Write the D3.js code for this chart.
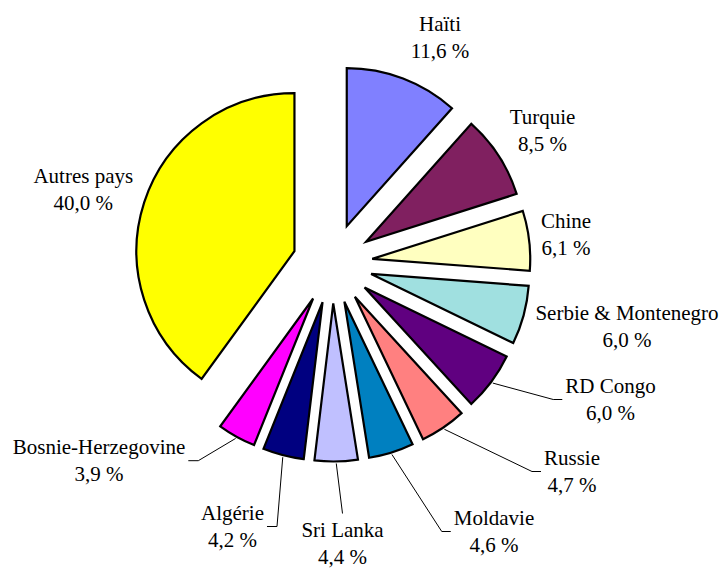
<!DOCTYPE html>
<html lang="fr">
<head>
<meta charset="utf-8">
<title>Répartition par pays</title>
<script src="https://cdn.jsdelivr.net/npm/d3@7"></script>
<style>
  html, body { margin: 0; padding: 0; background: #fff; }
  svg { display: block; }
  .lbl { font-family: "Liberation Serif", "Times New Roman", serif; font-size: 21px; fill: #000; }
</style>
</head>
<body>
<svg id="chart" width="722" height="570"></svg>
<script>
// Pays et parts (%)
const countries = ["Haïti", "Turquie", "Chine", "Serbie & Montenegro", "RD Congo",
  "Russie", "Moldavie", "Sri Lanka", "Algérie", "Bosnie-Herzegovine", "Autres pays"];
const shares = [11.6, 8.5, 6.1, 6.0, 6.0, 4.7, 4.6, 4.4, 4.2, 3.9, 40.0];
const colors = ["#8080FF", "#802060", "#FFFFC0", "#A0E0E0", "#600080",
  "#FF8080", "#0080C0", "#C0C0FF", "#000080", "#FF00FF", "#FFFF00"];

// Placement des étiquettes (centre du bloc de texte, relatif au centre du camembert)
const labelOffsets = [[107.5, -226], [210, -133], [233.5, -29], [294.5, 63], [278, 136],
  [239.5, 208], [161.5, 268], [10, 280], [-100, 263], [-233.5, 197.2], [-249.2, -74.5]];
// Étiquettes reliées à leur secteur par un trait
const withLeader = [false, false, false, false, true, true, true, true, true, true, false];

const cx = 332.5, cy = 263.5, radius = 158, explode = 40;

const fr = d3.formatLocale({ decimal: ",", thousands: " ", grouping: [3], currency: ["", " €"] });
const fmt = v => fr.format(".1f")(v) + " %";

const data = countries.map((c, i) => ({ name: c, value: shares[i], color: colors[i],
  offset: labelOffsets[i], leader: withLeader[i] }));

const pie = d3.pie().sort(null).value(d => d.value).startAngle(0).endAngle(2 * Math.PI);
const arc = d3.arc().innerRadius(0).outerRadius(radius);
const arcs = pie(data);

const svg = d3.select("#chart");
const g = svg.append("g").attr("transform", `translate(${cx},${cy})`);

const shift = a => {
  const m = (a.startAngle + a.endAngle) / 2;
  return [Math.sin(m) * explode, -Math.cos(m) * explode];
};

// Secteurs détachés
g.selectAll("path.slice")
  .data(arcs)
  .join("path")
  .attr("class", "slice")
  .attr("d", arc)
  .attr("transform", a => { const [dx, dy] = shift(a); return `translate(${dx},${dy})`; })
  .attr("fill", a => a.data.color)
  .attr("stroke", "#000")
  .attr("stroke-width", 2.2)
  .attr("stroke-linejoin", "miter");

// Étiquettes
const lineGap = 27;
const labels = g.selectAll("g.lblgrp")
  .data(arcs)
  .join("g")
  .attr("class", "lblgrp");

labels.each(function (a) {
  const sel = d3.select(this);
  const [ox, oy] = a.data.offset;
  const t1 = sel.append("text").attr("class", "lbl")
    .attr("x", ox).attr("y", oy - 6.5).attr("text-anchor", "middle").text(a.data.name);
  const t2 = sel.append("text").attr("class", "lbl")
    .attr("x", ox).attr("y", oy - 6.5 + lineGap).attr("text-anchor", "middle").text(fmt(a.data.value));

  if (!a.data.leader) return;
  const w = Math.max(t1.node().getComputedTextLength(), t2.node().getComputedTextLength());
  const m = (a.startAngle + a.endAngle) / 2;
  const [dx, dy] = shift(a);
  const sx = dx + Math.sin(m) * (radius + 2);
  const sy = dy - Math.cos(m) * (radius + 2);
  let pts;
  if (Math.abs(sx - ox) < w / 2) {
    // étiquette sous le secteur : trait vers le haut du bloc
    pts = [[sx, sy], [ox, oy - 30]];
  } else if (ox > sx) {
    const ex = ox - w / 2 - 3;
    pts = [[sx, sy], [ex - 9, oy], [ex, oy]];
  } else {
    const ex = ox + w / 2 + 3;
    pts = [[sx, sy], [ex + 10, oy], [ex, oy]];
  }
  sel.insert("path", "text")
    .attr("d", d3.line()(pts))
    .attr("fill", "none")
    .attr("stroke", "#000")
    .attr("stroke-width", 1);
});
</script>
</body>
</html>
